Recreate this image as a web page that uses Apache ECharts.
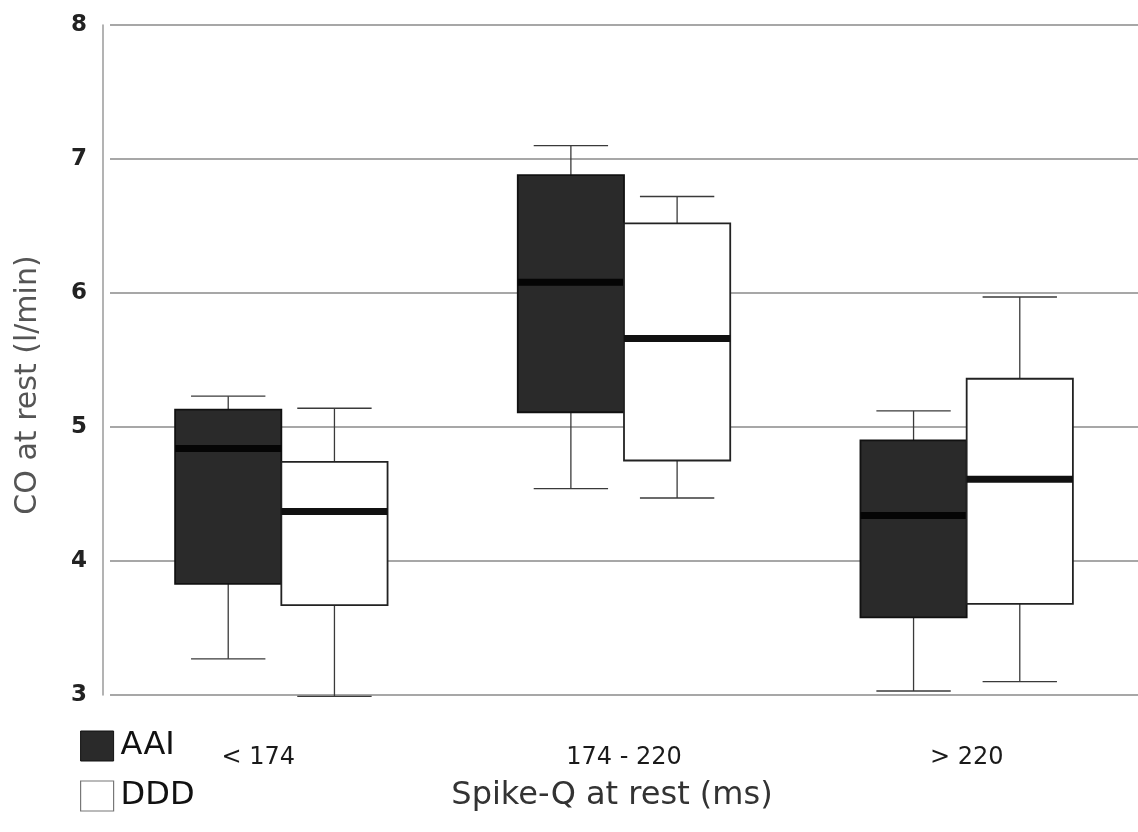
<!DOCTYPE html>
<html>
<head>
<meta charset="utf-8">
<script src="https://cdn.jsdelivr.net/npm/echarts@6/dist/echarts.min.js"></script>
<style>
  html, body { margin: 0; padding: 0; background: #fff; }
  #chart { width: 1138px; height: 832px; }
</style>
</head>
<body>
<div id="chart"></div>
<script>
// Spike-Q groups
const categories = ['< 174', '174 - 220', '> 220']
const yTicks = [3, 4, 5, 6, 7, 8]

// AAI box stats
const aaiMin = [3.27, 4.54, 3.03]
const aaiQ1 = [3.83, 5.11, 3.58]
const aaiMedian = [4.84, 6.08, 4.34]
const aaiQ3 = [5.13, 6.88, 4.90]
const aaiMax = [5.23, 7.10, 5.12]

// DDD box stats
const dddMin = [2.99, 4.47, 3.10]
const dddQ1 = [3.67, 4.75, 3.68]
const dddMedian = [4.37, 5.66, 4.61]
const dddQ3 = [4.74, 6.52, 5.36]
const dddMax = [5.14, 6.72, 5.97]

const toRows = (mins, q1s, meds, q3s, maxs) =>
  categories.map((c, i) => [i, mins[i], q1s[i], meds[i], q3s[i], maxs[i]])

// 画箱线图：side = -1 左侧, +1 右侧
const makeBox = (side, fill, stroke, medianColor) => (params, api) => {
  const cat = api.value(0)
  const band = api.size([1, 0])[0]
  const boxW = band * 0.31
  const capW = boxW * 0.7
  const cx = api.coord([cat, 0])[0] + side * boxW / 2
  const y = (v) => api.coord([cat, v])[1]
  const yMin = y(api.value(1)), yQ1 = y(api.value(2)), yMed = y(api.value(3))
  const yQ3 = y(api.value(4)), yMax = y(api.value(5))
  const whisker = { stroke: '#3a3a3a', lineWidth: 1.3 }
  return {
    type: 'group',
    children: [
      { type: 'line', shape: { x1: cx, y1: yQ3, x2: cx, y2: yMax }, style: whisker },
      { type: 'line', shape: { x1: cx, y1: yQ1, x2: cx, y2: yMin }, style: whisker },
      { type: 'line', shape: { x1: cx - capW / 2, y1: yMax, x2: cx + capW / 2, y2: yMax }, style: whisker },
      { type: 'line', shape: { x1: cx - capW / 2, y1: yMin, x2: cx + capW / 2, y2: yMin }, style: whisker },
      {
        type: 'rect',
        shape: { x: cx - boxW / 2, y: yQ3, width: boxW, height: yQ1 - yQ3 },
        style: { fill: fill, stroke: stroke, lineWidth: 1.8 }
      },
      {
        type: 'line',
        shape: { x1: cx - boxW / 2, y1: yMed, x2: cx + boxW / 2, y2: yMed },
        style: { stroke: medianColor, lineWidth: 7 }
      }
    ]
  }
}

const chart = echarts.init(document.getElementById('chart'))

chart.setOption({
  animation: false,
  backgroundColor: '#fff',
  grid: { left: 110, right: 0, top: 25, bottom: 137 },
  legend: {
    orient: 'vertical',
    left: 75,
    top: 725,
    itemWidth: 33,
    itemHeight: 30,
    itemGap: 18,
    textStyle: { fontFamily: 'DejaVu Sans', fontSize: 32, color: '#111', padding: [0, 0, 0, 2] },
    data: [
      { name: 'AAI', icon: 'rect', itemStyle: { color: '#2a2a2a', borderColor: '#111', borderWidth: 1 } },
      { name: 'DDD', icon: 'rect', itemStyle: { color: '#fff', borderColor: '#777', borderWidth: 1.2 } }
    ]
  },
  xAxis: {
    type: 'category',
    data: categories.map((c, i) => i === 0 ? { value: c, textStyle: { padding: [0, 46, 0, 0] } } : c),
    axisLine: { show: false },
    axisTick: { show: false },
    axisLabel: { fontFamily: 'DejaVu Sans', fontSize: 24, color: '#1a1a1a', margin: 51 },
    name: 'Spike-Q at rest (ms)',
    nameLocation: 'middle',
    nameGap: 85,
    nameTextStyle: { fontFamily: 'DejaVu Sans', fontSize: 32, color: '#333', padding: [0, 24, 0, 0] }
  },
  yAxis: {
    type: 'value',
    min: yTicks[0],
    max: yTicks[yTicks.length - 1],
    interval: 1,
    offset: 7,
    axisLine: { show: true, lineStyle: { color: '#9a9a9a', width: 1.5 } },
    axisTick: { show: false },
    axisLabel: { fontFamily: 'DejaVu Sans', fontWeight: 'bold', fontSize: 23, color: '#222', margin: 16 },
    splitLine: { show: true, lineStyle: { color: '#8a8a8a', width: 1.5 } },
    name: 'CO at rest (l/min)',
    nameLocation: 'middle',
    nameGap: 60,
    nameTextStyle: { fontFamily: 'DejaVu Sans', fontSize: 30, color: '#555', padding: [0, 50, 0, 0] }
  },
  series: [
    {
      name: 'AAI',
      type: 'custom',
      itemStyle: { color: '#2a2a2a' },
      encode: { x: 0, y: [1, 2, 3, 4, 5] },
      renderItem: makeBox(-1, '#2a2a2a', '#111', '#050505'),
      data: toRows(aaiMin, aaiQ1, aaiMedian, aaiQ3, aaiMax)
    },
    {
      name: 'DDD',
      type: 'custom',
      itemStyle: { color: '#fff' },
      encode: { x: 0, y: [1, 2, 3, 4, 5] },
      renderItem: makeBox(1, '#fff', '#222', '#111'),
      data: toRows(dddMin, dddQ1, dddMedian, dddQ3, dddMax)
    }
  ]
})
</script>
</body>
</html>
